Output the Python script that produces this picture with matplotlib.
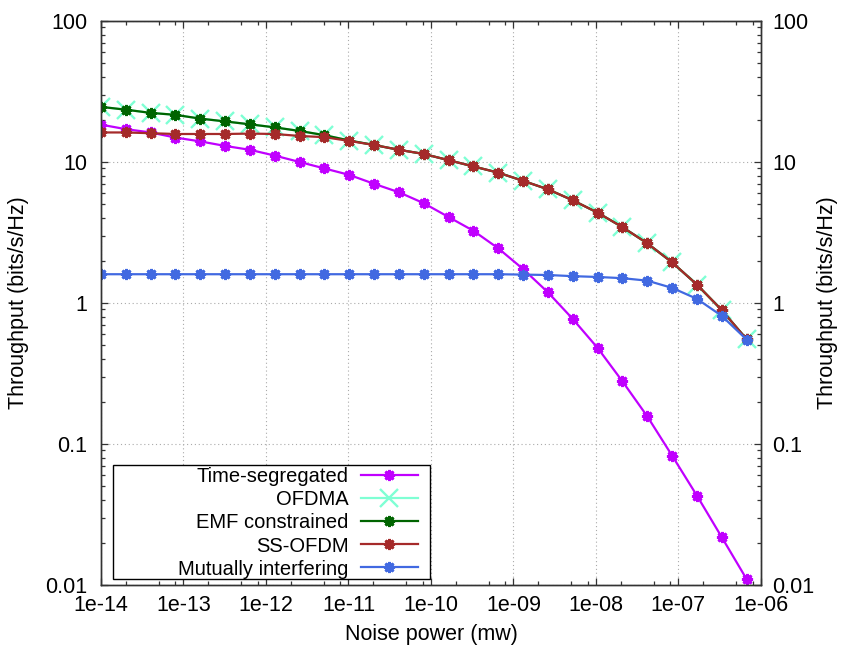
import math
import matplotlib
matplotlib.use('Agg')
import matplotlib.pyplot as plt
from matplotlib.patches import Rectangle
from matplotlib.ticker import FixedLocator, FuncFormatter, LogLocator, NullFormatter

plt.rcParams['font.family'] = ['Liberation Sans', 'DejaVu Sans']

# noise power (mw)
noise = [1.0e-14, 2.0e-14, 4.0e-14, 8.0e-14, 1.6e-13, 3.2e-13, 6.4e-13,
         1.28e-12, 2.56e-12, 5.12e-12, 1.024e-11, 2.048e-11, 4.096e-11,
         8.192e-11, 1.6384e-10, 3.2768e-10, 6.5536e-10, 1.31072e-09,
         2.62144e-09, 5.24288e-09, 1.048576e-08, 2.097152e-08,
         4.194304e-08, 8.388608e-08, 1.6777216e-07, 3.3554432e-07,
         6.7108864e-07]

time_seg = [18.4, 17.1, 16.2, 14.9, 14.0, 13.0, 12.2, 11.1, 10.0, 9.0, 8.1,
            7.0, 6.1, 5.1, 4.07, 3.25, 2.44, 1.74, 1.19, 0.77, 0.48, 0.278,
            0.157, 0.0826, 0.043, 0.0218, 0.011]
ofdma = [24.6, 23.5, 22.3, 21.6, 20.3, 19.4, 18.5, 17.6, 16.6, 15.5, 14.2,
         13.2, 12.2, 11.4, 10.3, 9.3, 8.4, 7.35, 6.4, 5.35, 4.37, 3.45, 2.65,
         1.94, 1.35, 0.89, 0.553]
emf = [24.6, 23.5, 22.3, 21.6, 20.3, 19.4, 18.5, 17.6, 16.6, 15.5, 14.2,
       13.2, 12.2, 11.4, 10.3, 9.3, 8.4, 7.35, 6.4, 5.35, 4.37, 3.45, 2.65,
       1.94, 1.35, 0.89, 0.553]
ss_ofdm = [16.2, 16.2, 16.0, 15.8, 15.8, 15.8, 15.9, 15.8, 15.3, 15.0, 14.1,
           13.2, 12.2, 11.4, 10.3, 9.3, 8.4, 7.35, 6.4, 5.35, 4.37, 3.45,
           2.65, 1.94, 1.35, 0.89, 0.553]
mutual = [1.6, 1.6, 1.6, 1.6, 1.6, 1.6, 1.6, 1.6, 1.6, 1.6, 1.6, 1.6, 1.6,
          1.6, 1.6, 1.6, 1.6, 1.59, 1.58, 1.55, 1.53, 1.50, 1.44, 1.28, 1.07,
          0.81, 0.55]

x_ticks = [1e-14, 1e-13, 1e-12, 1e-11, 1e-10, 1e-9, 1e-8, 1e-7, 1e-6]
y_ticks = [0.01, 0.1, 1, 10, 100]
y_labels = ['0.01', '0.1', '1', '10', '100']

fs = 15.5
star = (8, 2, 0)  # gnuplot-like asterisk
axis_col = '#333333'

fig = plt.figure(figsize=(8.45, 6.48), dpi=100)
ax = fig.add_axes([0.1195, 0.0972, 0.781, 0.8704])

ax.plot(noise, time_seg, color='#c000ff', lw=1.6, marker=star, ms=8, mew=2,
        label='Time-segregated')
ax.plot(noise, ofdma, color='#7fffd4', lw=1.6, marker='x', ms=13, mew=1.7,
        label='OFDMA')
ax.plot(noise, emf, color='#006400', lw=1.6, marker=star, ms=8, mew=2,
        label='EMF constrained')
ax.plot(noise, ss_ofdm, color='#a52a2a', lw=1.6, marker=star, ms=8, mew=2,
        label='SS-OFDM')
ax.plot(noise, mutual, color='#4169e1', lw=1.6, marker=star, ms=8, mew=2,
        label='Mutually interfering')

ax.set_xscale('log')
ax.set_yscale('log')
ax.set_xlim(1e-14, 1e-6)
ax.set_ylim(0.01, 100)

ax.xaxis.set_major_locator(FixedLocator(x_ticks))
ax.xaxis.set_major_formatter(FuncFormatter(lambda v, p: '1e%03d' % round(math.log10(v))))
ax.xaxis.set_minor_locator(LogLocator(base=10, subs=[2, 5, 8]))
ax.xaxis.set_minor_formatter(NullFormatter())
ax.yaxis.set_major_locator(FixedLocator(y_ticks))
ax.set_yticklabels(y_labels)
ax.yaxis.set_minor_locator(LogLocator(base=10, subs=range(2, 10)))
ax.yaxis.set_minor_formatter(NullFormatter())

ax.grid(True, which='major', color='#aaaaaa', ls=(0, (1, 2.5)), lw=0.8)

for s in ax.spines.values():
    s.set_color(axis_col)
    s.set_linewidth(1.0)
ax.tick_params(which='both', direction='in', top=True, right=True,
               color=axis_col, labelsize=fs)
ax.tick_params(which='major', length=5, width=0.9)
ax.tick_params(which='minor', length=3, width=0.9)
ax.tick_params(axis='y', pad=10)
ax.tick_params(axis='x', pad=7)

# right-hand axis (mirror of the left one)
ax2 = ax.twinx()
ax2.set_yscale('log')
ax2.set_ylim(0.01, 100)
ax2.yaxis.set_major_locator(FixedLocator(y_ticks))
ax2.set_yticklabels(y_labels)
ax2.yaxis.set_minor_locator(LogLocator(base=10, subs=range(2, 10)))
ax2.yaxis.set_minor_formatter(NullFormatter())
ax2.tick_params(which='both', direction='in', color=axis_col, labelsize=fs, pad=8)
ax2.tick_params(which='major', length=5, width=0.9)
ax2.tick_params(which='minor', length=3, width=0.9)
for s in ax2.spines.values():
    s.set_color(axis_col)
    s.set_linewidth(1.0)

ax.set_xlabel('Noise power (mw)', fontsize=fs, labelpad=6)
ax.set_ylabel('Throughput (bits/s/Hz)', fontsize=fs)
ax.yaxis.set_label_coords(-0.109, 0.5)
ax2.set_ylabel('Throughput (bits/s/Hz)', fontsize=fs)
ax2.yaxis.set_label_coords(1.085, 0.5)

# key box like gnuplot: wide frame, text right-aligned against the samples
ax.add_patch(Rectangle((0.0177, 0.0106), 0.4808, 0.2022, transform=ax.transAxes,
                       facecolor='white', edgecolor='black', lw=1.0, zorder=4.9))
leg = ax.legend(loc='center right', bbox_to_anchor=(0.4803, 0.110),
                borderaxespad=0, borderpad=0, markerfirst=False, fontsize=14.5,
                frameon=False, handlelength=2.85, labelspacing=0.2,
                handletextpad=0.6)
for vp in leg._legend_box._children[-1]._children:
    vp.align = 'right'

fig.savefig('out.png', dpi=100)
